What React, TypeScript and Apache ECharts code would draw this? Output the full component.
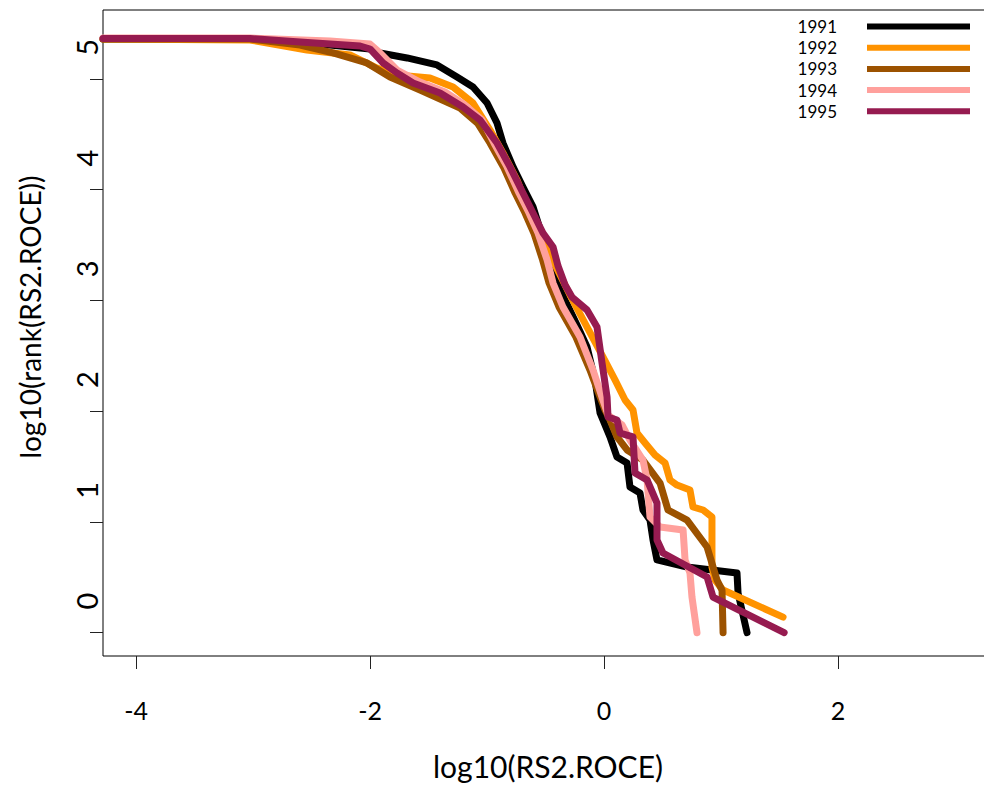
import React, { useEffect, useRef } from "react";
import * as echarts from "echarts";

const years = ["1991", "1992", "1993", "1994", "1995"];
const colors = ["#000000", "#FF9300", "#9C5200", "#FFA09C", "#961B50"];
const xTicks = [-4, -2, 0, 2];
const yTicks = [0, 1, 2, 3, 4, 5];
const yLabelShift = 0.285;

const s1991: [number, number][] = [
  [-4.284, 5.361], [-3.027, 5.361], [-2.343, 5.307], [-2.001, 5.271], [-1.915, 5.235],
  [-1.684, 5.19], [-1.428, 5.127], [-1.257, 5.018], [-1.12, 4.928], [-1.0, 4.783],
  [-0.915, 4.602], [-0.864, 4.422], [-0.778, 4.206], [-0.693, 4.025], [-0.607, 3.845],
  [-0.504, 3.501], [-0.419, 3.23], [-0.333, 3.004], [-0.231, 2.778], [-0.145, 2.58],
  [-0.077, 2.282], [-0.034, 1.984], [0.051, 1.768], [0.111, 1.586], [0.197, 1.532],
  [0.222, 1.315], [0.308, 1.261], [0.333, 1.108], [0.393, 1.017], [0.419, 0.837],
  [0.453, 0.657], [0.71, 0.593], [1.137, 0.539], [1.146, 0.358], [1.223, 0.0],
];

const s1992: [number, number][] = [
  [-4.284, 5.361], [-3.027, 5.352], [-2.54, 5.262], [-2.172, 5.217], [-1.941, 5.099],
  [-1.77, 5.036], [-1.488, 5.009], [-1.291, 4.928], [-1.12, 4.783], [-0.975, 4.539],
  [-0.864, 4.332], [-0.744, 4.088], [-0.633, 3.79], [-0.504, 3.501], [-0.376, 3.23],
  [-0.291, 3.049], [-0.145, 2.76], [-0.009, 2.49], [0.094, 2.282], [0.18, 2.101],
  [0.248, 2.011], [0.282, 1.803], [0.351, 1.713], [0.436, 1.604], [0.522, 1.532],
  [0.564, 1.379], [0.624, 1.333], [0.735, 1.288], [0.761, 1.135], [0.847, 1.108],
  [0.923, 1.045], [0.923, 0.593], [0.949, 0.476], [1.018, 0.385], [1.531, 0.141],
];

const s1993: [number, number][] = [
  [-4.284, 5.361], [-3.027, 5.361], [-2.599, 5.307], [-2.317, 5.235], [-2.027, 5.145],
  [-1.83, 5.018], [-1.573, 4.901], [-1.231, 4.738], [-1.08, 4.6], [-0.975, 4.422],
  [-0.86, 4.206], [-0.76, 3.971], [-0.675, 3.79], [-0.6, 3.609], [-0.525, 3.366],
  [-0.47, 3.158], [-0.385, 2.941], [-0.24, 2.67], [-0.12, 2.372], [-0.04, 2.146],
  [0.009, 2.011], [0.051, 1.921], [0.111, 1.768], [0.197, 1.65], [0.333, 1.559],
  [0.479, 1.351], [0.547, 1.108], [0.71, 1.017], [0.881, 0.774], [0.966, 0.476],
  [1.009, 0.385], [1.018, 0.0],
];

const s1994: [number, number][] = [
  [-4.284, 5.37], [-3.027, 5.37], [-2.343, 5.343], [-2.001, 5.316], [-1.915, 5.235],
  [-1.77, 5.081], [-1.573, 4.973], [-1.36, 4.883], [-1.189, 4.765], [-1.043, 4.63],
  [-0.941, 4.422], [-0.829, 4.206], [-0.727, 3.971], [-0.641, 3.79], [-0.564, 3.609],
  [-0.487, 3.366], [-0.436, 3.158], [-0.351, 2.941], [-0.205, 2.67], [-0.094, 2.372],
  [-0.009, 2.101], [0.034, 1.966], [0.154, 1.876], [0.222, 1.74], [0.333, 1.559],
  [0.368, 1.379], [0.393, 1.045], [0.479, 0.954], [0.676, 0.927], [0.693, 0.657],
  [0.735, 0.539], [0.752, 0.322], [0.795, 0.0],
];

const s1995: [number, number][] = [
  [-4.284, 5.366], [-3.027, 5.366], [-2.599, 5.334], [-2.086, 5.298], [-2.001, 5.271],
  [-1.89, 5.145], [-1.77, 5.054], [-1.633, 4.964], [-1.402, 4.874], [-1.206, 4.747],
  [-1.06, 4.63], [-0.915, 4.422], [-0.804, 4.206], [-0.693, 3.971], [-0.607, 3.79],
  [-0.522, 3.609], [-0.436, 3.483], [-0.393, 3.311], [-0.333, 3.14], [-0.274, 3.031],
  [-0.145, 2.914], [-0.06, 2.76], [-0.017, 2.435], [0.026, 2.129], [0.034, 1.948],
  [0.111, 1.921], [0.137, 1.803], [0.248, 1.768], [0.265, 1.442], [0.368, 1.379],
  [0.453, 1.171], [0.453, 0.837], [0.504, 0.72], [0.881, 0.503], [0.932, 0.322],
  [1.54, 0.0],
];

const seriesData = [s1991, s1992, s1993, s1994, s1995];

const FONT = "Lato, 'Open Sans', sans-serif";

export default function App() {
  const ref = useRef<HTMLDivElement>(null);
  useEffect(() => {
    if (!ref.current) return;
    const chart = echarts.init(ref.current, null, { renderer: "svg" });
    chart.setOption({
      animation: false,
      backgroundColor: "#ffffff",
      grid: {
        left: 103,
        top: 10,
        width: 890,
        height: 646,
        show: true,
        borderColor: "#000",
        borderWidth: 1,
        containLabel: false,
      },
      xAxis: {
        type: "value",
        min: -4.284,
        max: 3.326,
        splitLine: { show: false },
        axisLine: { show: false, onZero: false },
        axisTick: {
          show: true,
          length: 13,
          inside: false,
          customValues: xTicks,
          lineStyle: { color: "#222", width: 1 },
        },
        axisLabel: {
          show: true,
          customValues: xTicks,
          margin: 41,
          fontSize: 25,
          fontFamily: FONT,
          color: "#000",
          formatter: (v: number) => String(Math.round(v)),
        },
      },
      yAxis: {
        type: "value",
        min: -0.2104,
        max: 5.623,
        splitLine: { show: false },
        axisLine: { show: false, onZero: false },
        axisTick: {
          show: true,
          length: 13,
          inside: false,
          customValues: yTicks,
          lineStyle: { color: "#222", width: 1 },
        },
        axisLabel: {
          show: true,
          customValues: yTicks.map((t) => t + yLabelShift),
          rotate: 90,
          margin: 2,
          fontSize: 29,
          fontFamily: FONT,
          color: "#000",
          formatter: (v: number) => String(Math.round(v - yLabelShift)),
        },
      },
      legend: {
        data: years,
        orient: "vertical",
        left: 797,
        top: 16,
        padding: 0,
        align: "right",
        icon: "rect",
        itemWidth: 103,
        itemHeight: 6,
        itemGap: 0.2,
        textStyle: {
          fontFamily: FONT,
          fontSize: 17,
          color: "#000",
          width: 40,
          lineHeight: 18,
          padding: [3, 25, 0, 0],
        },
      },
      graphic: [
        {
          type: "text",
          x: 548,
          y: 766,
          style: {
            text: "log10(RS2.ROCE)",
            font: `30px ${FONT}`,
            fill: "#000",
            textAlign: "center",
            textVerticalAlign: "middle",
          },
        },
        {
          type: "text",
          x: 30,
          y: 317,
          rotation: Math.PI / 2,
          style: {
            text: "log10(rank(RS2.ROCE))",
            font: `28px ${FONT}`,
            fill: "#000",
            textAlign: "center",
            textVerticalAlign: "middle",
          },
        },
      ],
      series: years.map((y, i) => ({
        name: y,
        type: "line",
        data: seriesData[i],
        showSymbol: false,
        symbol: "none",
        color: colors[i],
        lineStyle: { color: colors[i], width: 7, cap: "round", join: "round" },
        clip: true,
      })),
    });
    return () => chart.dispose();
  }, []);
  return (
    <div
      style={{
        position: "fixed",
        left: 0,
        top: 0,
        width: 984,
        height: 799,
        overflow: "hidden",
        background: "#fff",
      }}
    >
      <div ref={ref} style={{ width: 1010, height: 799 }} />
    </div>
  );
}
